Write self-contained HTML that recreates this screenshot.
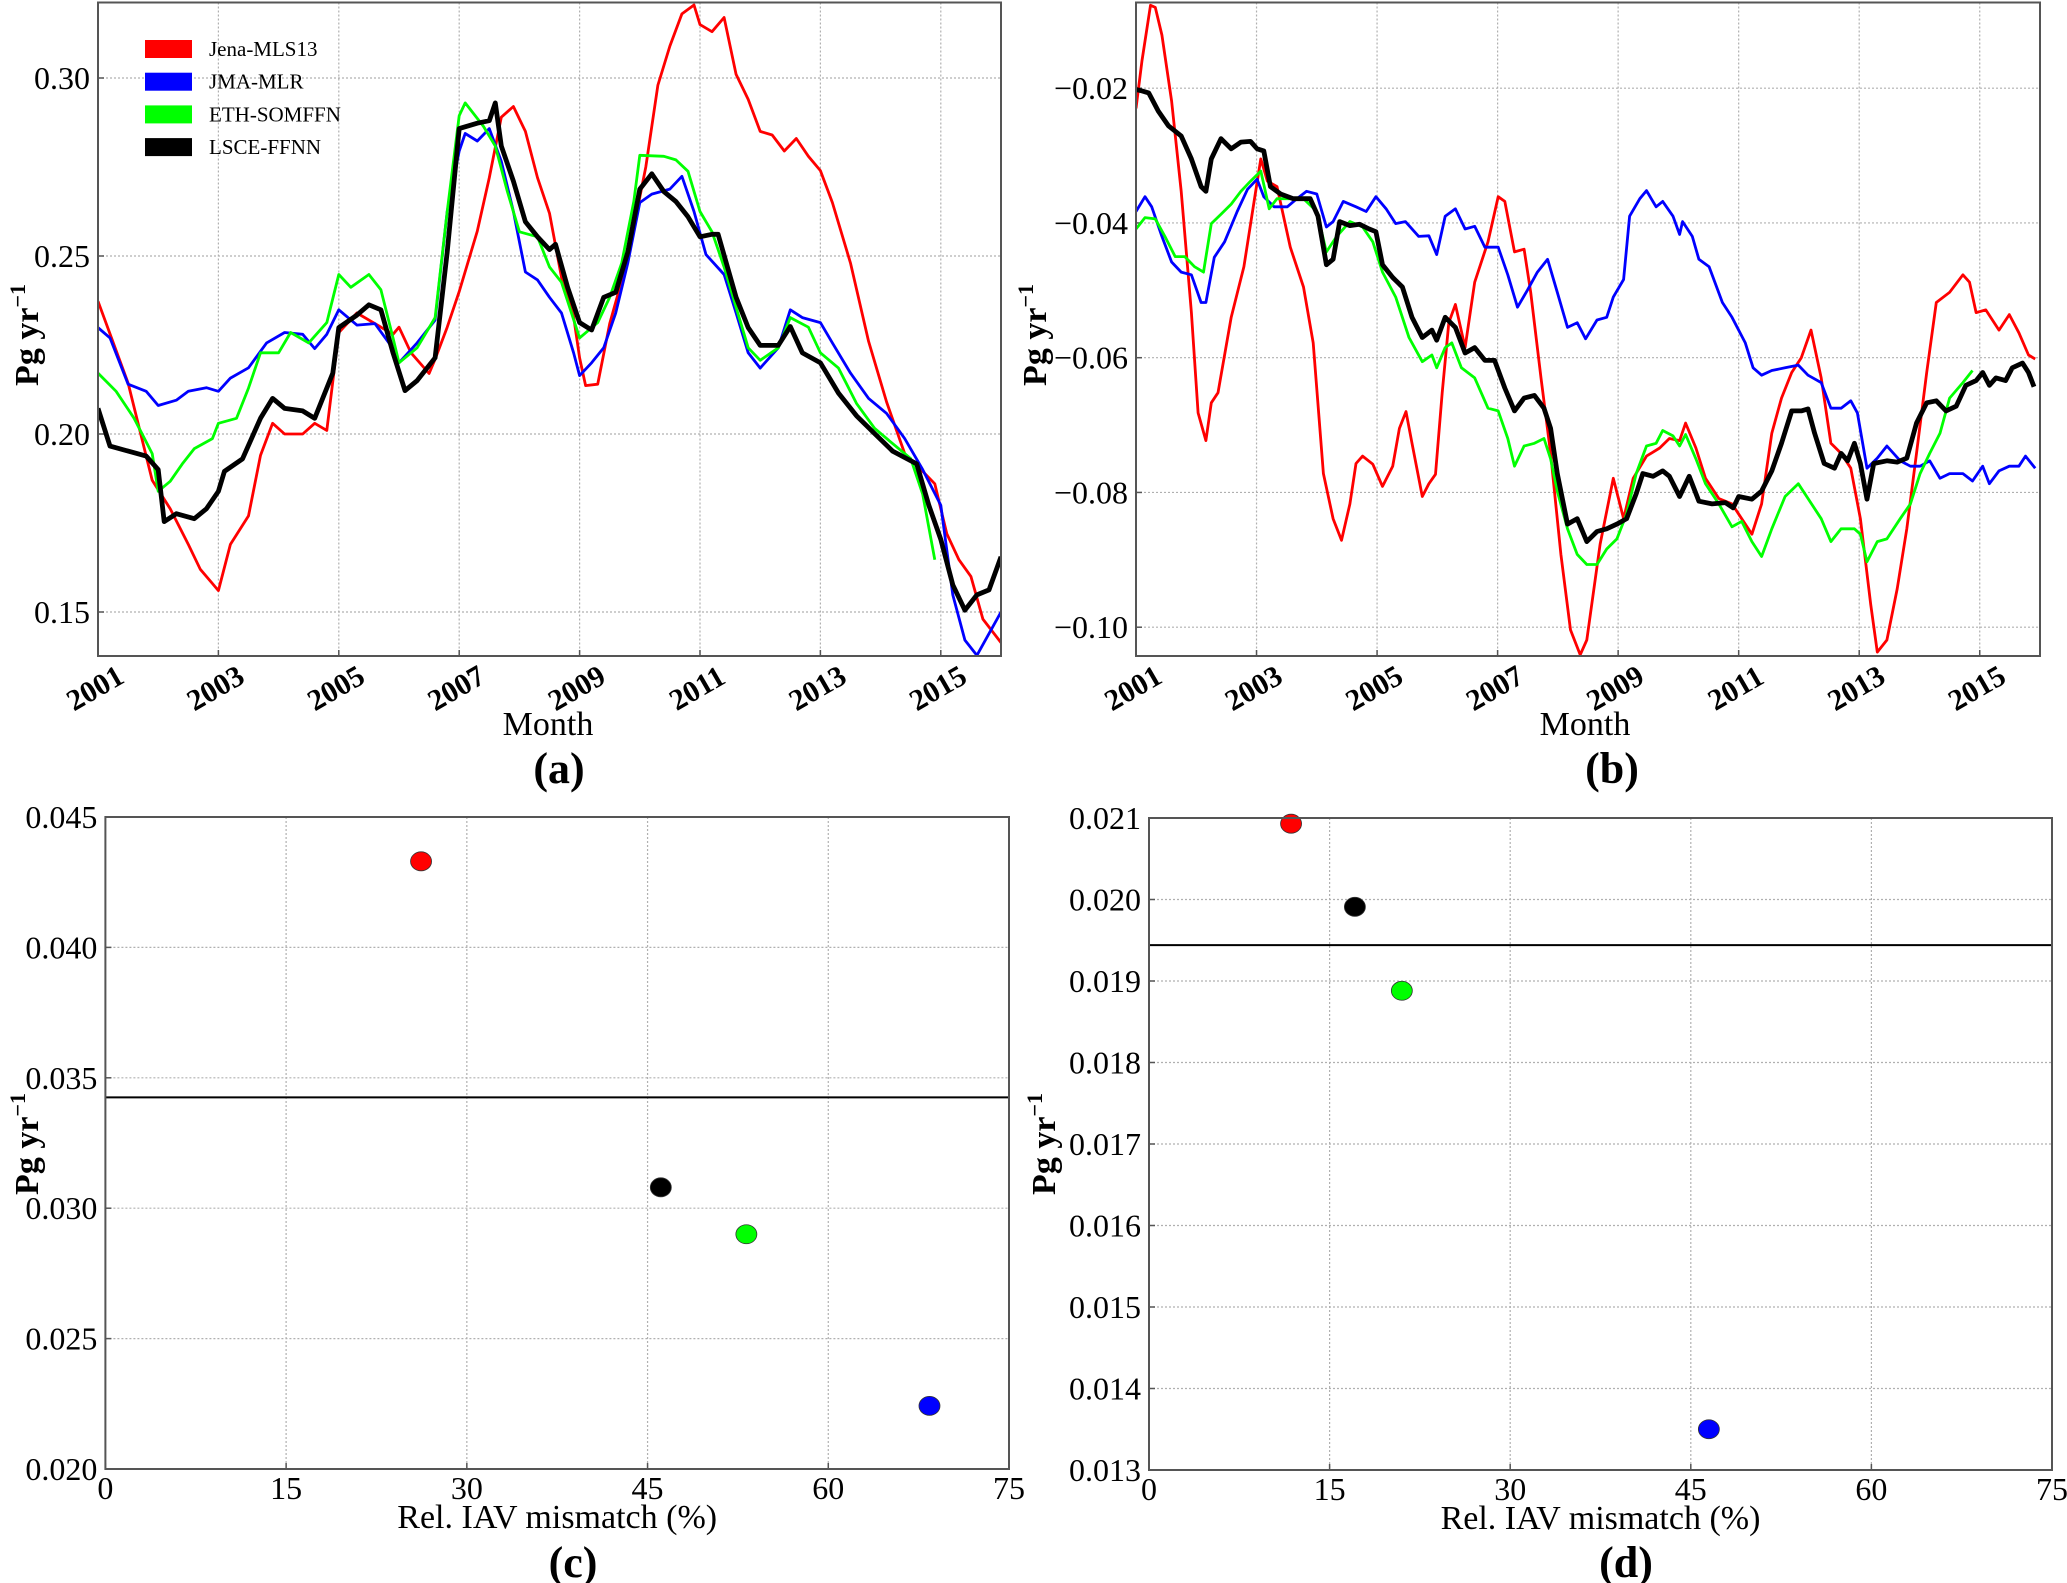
<!DOCTYPE html>
<html><head><meta charset="utf-8"><style>
html,body{margin:0;padding:0;background:#fff;}
svg{display:block;font-family:"Liberation Serif",serif;}
</style></head><body>
<svg id="fig" width="2067" height="1583" viewBox="0 0 2067 1583"></svg>
<script>
// ---------- Panel (a) data ----------
const aRedX=[2001.0,2001.5,2001.9,2002.2,2002.5,2002.7,2002.9,2003.0,2003.2,2003.5,2003.7,2003.9,2004.1,2004.4,2004.6,2004.8,2005.0,2005.3,2005.6,2005.9,2006.0,2006.2,2006.5,2006.6,2006.8,2007.0,2007.3,2007.5,2007.7,2007.9,2008.1,2008.3,2008.5,2008.7,2008.9,2009.0,2009.1,2009.3,2009.5,2009.7,2009.9,2010.1,2010.3,2010.5,2010.7,2010.9,2011.0,2011.2,2011.4,2011.6,2011.8,2012.0,2012.2,2012.4,2012.6,2012.8,2013.0,2013.2,2013.5,2013.8,2014.1,2014.4,2014.7,2014.9,2015.1,2015.3,2015.5,2015.7,2016.0];
const aRedY=[0.2373,0.2143,0.187,0.179,0.169,0.162,0.158,0.156,0.169,0.177,0.194,0.203,0.200,0.200,0.203,0.201,0.2285,0.234,0.231,0.228,0.230,0.2228,0.217,0.221,0.230,0.240,0.257,0.272,0.289,0.292,0.285,0.272,0.262,0.244,0.233,0.2214,0.2136,0.214,0.231,0.243,0.258,0.275,0.298,0.309,0.318,0.3205,0.315,0.313,0.317,0.301,0.294,0.285,0.284,0.2795,0.283,0.278,0.274,0.265,0.248,0.226,0.209,0.1945,0.1895,0.186,0.172,0.1647,0.160,0.148,0.1414];
const aBlueX=[2001.0,2001.2,2001.5,2001.8,2002.0,2002.3,2002.5,2002.8,2003.0,2003.2,2003.5,2003.8,2004.1,2004.4,2004.6,2004.8,2005.0,2005.3,2005.6,2005.9,2006.0,2006.3,2006.6,2006.8,2007.0,2007.1,2007.3,2007.5,2007.7,2007.9,2008.1,2008.3,2008.5,2008.7,2008.9,2009.0,2009.2,2009.4,2009.6,2009.8,2010.0,2010.2,2010.5,2010.7,2010.9,2011.1,2011.4,2011.6,2011.8,2012.0,2012.3,2012.5,2012.7,2013.0,2013.2,2013.5,2013.8,2014.1,2014.4,2014.7,2015.0,2015.2,2015.4,2015.6,2016.0];
const aBlueY=[0.2299,0.227,0.214,0.212,0.208,0.2095,0.212,0.213,0.212,0.2157,0.2186,0.2256,0.2285,0.228,0.224,0.228,0.2349,0.2306,0.231,0.224,0.220,0.2256,0.232,0.2625,0.2795,0.2844,0.2823,0.2858,0.2766,0.2625,0.2455,0.2433,0.2384,0.234,0.2228,0.2164,0.220,0.2242,0.234,0.248,0.265,0.2674,0.2688,0.2724,0.2625,0.2504,0.2448,0.234,0.2228,0.2185,0.2242,0.2349,0.2327,0.2313,0.2256,0.2171,0.210,0.2058,0.1987,0.190,0.180,0.1548,0.1421,0.1378,0.150];
const aGreenX=[2001.0,2001.3,2001.6,2001.9,2002.0,2002.2,2002.4,2002.6,2002.9,2003.0,2003.3,2003.5,2003.7,2004.0,2004.2,2004.5,2004.8,2005.0,2005.2,2005.5,2005.7,2005.9,2006.0,2006.3,2006.6,2006.8,2007.0,2007.1,2007.4,2007.6,2007.8,2008.0,2008.3,2008.5,2008.7,2009.0,2009.3,2009.5,2009.7,2009.9,2010.0,2010.4,2010.6,2010.8,2011.0,2011.2,2011.4,2011.6,2011.8,2012.0,2012.3,2012.5,2012.8,2013.0,2013.3,2013.6,2013.9,2014.2,2014.5,2014.7,2014.9];
const aGreenY=[0.2171,0.212,0.2044,0.1945,0.1839,0.1867,0.1916,0.1959,0.1987,0.203,0.2044,0.2129,0.2228,0.2228,0.2285,0.2256,0.2313,0.2448,0.2412,0.2448,0.2405,0.227,0.220,0.2242,0.2327,0.2625,0.2894,0.293,0.2865,0.2809,0.2681,0.2568,0.2554,0.2469,0.2426,0.227,0.2313,0.2384,0.248,0.2653,0.2783,0.278,0.277,0.2738,0.2625,0.2568,0.2469,0.2356,0.2242,0.2207,0.2242,0.2327,0.230,0.2228,0.2185,0.2086,0.2016,0.1973,0.1931,0.1831,0.1647];
const aBlackX=[2001.0,2001.2,2001.5,2001.8,2002.0,2002.1,2002.3,2002.6,2002.8,2003.0,2003.1,2003.4,2003.7,2003.9,2004.1,2004.4,2004.6,2004.9,2005.0,2005.3,2005.5,2005.7,2005.9,2006.1,2006.3,2006.6,2006.8,2007.0,2007.3,2007.5,2007.6,2007.7,2007.9,2008.1,2008.3,2008.5,2008.6,2008.8,2009.0,2009.2,2009.4,2009.6,2009.8,2010.0,2010.2,2010.4,2010.6,2010.8,2011.0,2011.2,2011.3,2011.6,2011.8,2012.0,2012.3,2012.5,2012.7,2013.0,2013.3,2013.6,2013.9,2014.2,2014.6,2014.8,2015.0,2015.2,2015.4,2015.6,2015.8,2016.0];
const aBlackY=[0.2072,0.1966,0.1952,0.1938,0.190,0.1754,0.1776,0.1762,0.179,0.1839,0.1895,0.193,0.2044,0.210,0.2072,0.2065,0.2044,0.2171,0.2299,0.2334,0.2363,0.2349,0.2228,0.2122,0.215,0.2214,0.2511,0.2858,0.2873,0.288,0.293,0.2809,0.271,0.2596,0.2554,0.2518,0.2533,0.2412,0.2313,0.2292,0.2384,0.2398,0.2511,0.2688,0.2731,0.2681,0.2653,0.261,0.2554,0.2561,0.2561,0.2384,0.2299,0.2249,0.2249,0.2302,0.2228,0.22,0.2115,0.2051,0.2001,0.1952,0.1916,0.180,0.1704,0.1576,0.1505,0.1548,0.1562,0.1655];
// ---------- Panel (b) data ----------
const bRedX=[2001.0,2001.1,2001.24,2001.32,2001.43,2001.59,2001.75,2001.92,2002.03,2002.16,2002.25,2002.36,2002.58,2002.79,2002.96,2003.07,2003.18,2003.34,2003.56,2003.78,2003.94,2004.11,2004.27,2004.41,2004.55,2004.65,2004.76,2004.93,2005.09,2005.26,2005.37,2005.48,2005.58,2005.75,2005.86,2005.97,2006.08,2006.19,2006.3,2006.46,2006.62,2006.84,2007.01,2007.12,2007.28,2007.44,2007.55,2007.72,2007.88,2008.05,2008.21,2008.37,2008.48,2008.7,2008.92,2009.09,2009.25,2009.47,2009.69,2009.85,2010.02,2010.12,2010.29,2010.45,2010.67,2010.89,2011.05,2011.22,2011.38,2011.55,2011.71,2011.88,2012.04,2012.2,2012.37,2012.53,2012.7,2012.86,2013.02,2013.19,2013.3,2013.46,2013.63,2013.79,2013.95,2014.12,2014.28,2014.5,2014.72,2014.83,2014.94,2015.1,2015.32,2015.49,2015.65,2015.81,2015.92];
const bRedY=[-0.0230,-0.0159,-0.0077,-0.008,-0.0121,-0.0219,-0.0353,-0.0533,-0.0682,-0.0723,-0.0667,-0.0652,-0.054,-0.0465,-0.0368,-0.0305,-0.0338,-0.0346,-0.0436,-0.0495,-0.0578,-0.0772,-0.0839,-0.0871,-0.0817,-0.0757,-0.0746,-0.0758,-0.0791,-0.0761,-0.0705,-0.068,-0.0727,-0.0806,-0.0787,-0.0773,-0.0652,-0.0548,-0.0521,-0.0585,-0.0488,-0.0428,-0.0361,-0.0368,-0.0443,-0.0439,-0.0503,-0.063,-0.0742,-0.0892,-0.1004,-0.1041,-0.1019,-0.0877,-0.0779,-0.0839,-0.0779,-0.0746,-0.0734,-0.072,-0.0723,-0.0697,-0.0734,-0.0779,-0.0809,-0.0817,-0.0839,-0.0862,-0.0817,-0.0712,-0.066,-0.0622,-0.06,-0.0559,-0.063,-0.0727,-0.0742,-0.0764,-0.0839,-0.0966,-0.1037,-0.1019,-0.0943,-0.0854,-0.0742,-0.0622,-0.0518,-0.0503,-0.0477,-0.0488,-0.0533,-0.0529,-0.0559,-0.0536,-0.0563,-0.0596,-0.0602];
const bBlueX=[2001.0,2001.15,2001.26,2001.43,2001.59,2001.75,2001.92,2002.08,2002.16,2002.3,2002.47,2002.68,2002.85,2003.01,2003.12,2003.29,2003.51,2003.67,2003.83,2004.0,2004.16,2004.27,2004.44,2004.65,2004.82,2004.98,2005.15,2005.31,2005.47,2005.69,2005.86,2005.99,2006.13,2006.3,2006.46,2006.62,2006.79,2007.01,2007.17,2007.33,2007.5,2007.66,2007.83,2007.99,2008.16,2008.32,2008.46,2008.65,2008.81,2008.92,2009.09,2009.19,2009.36,2009.47,2009.63,2009.74,2009.91,2010.02,2010.07,2010.23,2010.34,2010.51,2010.73,2010.89,2011.11,2011.24,2011.38,2011.55,2011.77,2011.99,2012.15,2012.37,2012.53,2012.7,2012.86,2012.97,2013.13,2013.3,2013.46,2013.68,2013.85,2014.01,2014.17,2014.34,2014.5,2014.72,2014.88,2015.05,2015.16,2015.32,2015.49,2015.65,2015.76,2015.92];
const bBlueY=[-0.0383,-0.0361,-0.0376,-0.042,-0.0458,-0.0473,-0.0477,-0.0518,-0.0518,-0.0451,-0.0428,-0.0383,-0.035,-0.0335,-0.0361,-0.0376,-0.0376,-0.0364,-0.0353,-0.0357,-0.0406,-0.0398,-0.0368,-0.0376,-0.0383,-0.0361,-0.0379,-0.0401,-0.0398,-0.042,-0.0419,-0.0447,-0.039,-0.0379,-0.0409,-0.0405,-0.0436,-0.0436,-0.0477,-0.0525,-0.0499,-0.0473,-0.0454,-0.0503,-0.0555,-0.0548,-0.0572,-0.0544,-0.054,-0.051,-0.0484,-0.039,-0.0364,-0.0352,-0.0376,-0.0368,-0.039,-0.0417,-0.0398,-0.042,-0.0454,-0.0465,-0.0518,-0.054,-0.0578,-0.0615,-0.0626,-0.0619,-0.0615,-0.0611,-0.0626,-0.0637,-0.0675,-0.0675,-0.0664,-0.0682,-0.0764,-0.0749,-0.0731,-0.0753,-0.0761,-0.0761,-0.0753,-0.0779,-0.0772,-0.0772,-0.0783,-0.0761,-0.0787,-0.0768,-0.0761,-0.0761,-0.0746,-0.0764];
const bGreenX=[2001.0,2001.15,2001.32,2001.48,2001.65,2001.81,2001.97,2002.12,2002.25,2002.41,2002.58,2002.74,2002.9,2003.07,2003.21,2003.34,2003.56,2003.78,2004.0,2004.16,2004.33,2004.55,2004.76,2004.93,2005.09,2005.31,2005.53,2005.75,2005.91,2005.99,2006.13,2006.24,2006.4,2006.62,2006.84,2007.01,2007.17,2007.28,2007.44,2007.61,2007.77,2007.88,2007.99,2008.16,2008.32,2008.48,2008.65,2008.81,2008.98,2009.14,2009.3,2009.47,2009.63,2009.74,2009.91,2010.02,2010.12,2010.29,2010.45,2010.67,2010.89,2011.05,2011.22,2011.38,2011.55,2011.77,2011.99,2012.15,2012.37,2012.53,2012.7,2012.92,2013.02,2013.13,2013.3,2013.46,2013.68,2013.85,2014.01,2014.17,2014.34,2014.5,2014.72,2014.88];
const bGreenY=[-0.0409,-0.0392,-0.0394,-0.042,-0.045,-0.045,-0.0465,-0.0473,-0.0401,-0.0387,-0.0372,-0.0353,-0.0338,-0.0323,-0.0379,-0.0364,-0.0364,-0.0364,-0.0383,-0.0443,-0.042,-0.0398,-0.0406,-0.0428,-0.0473,-0.051,-0.057,-0.0606,-0.0596,-0.0615,-0.0585,-0.0578,-0.0615,-0.063,-0.0675,-0.0679,-0.072,-0.0761,-0.0731,-0.0727,-0.072,-0.075,-0.0798,-0.0854,-0.0892,-0.0907,-0.0907,-0.0884,-0.0869,-0.0832,-0.0772,-0.0731,-0.0727,-0.0708,-0.0716,-0.0731,-0.0714,-0.075,-0.0787,-0.0817,-0.0851,-0.0843,-0.0873,-0.0895,-0.0854,-0.0806,-0.0787,-0.0809,-0.0839,-0.0873,-0.0854,-0.0854,-0.0862,-0.0903,-0.0873,-0.0869,-0.0839,-0.0817,-0.0772,-0.0742,-0.0712,-0.066,-0.0637,-0.0619];
const bBlackX=[2001.0,2001.1,2001.21,2001.37,2001.54,2001.75,2001.92,2002.08,2002.16,2002.25,2002.41,2002.58,2002.74,2002.9,2003.01,2003.12,2003.23,2003.4,2003.61,2003.89,2004.02,2004.16,2004.27,2004.38,2004.55,2004.71,2004.87,2004.98,2005.09,2005.26,2005.42,2005.58,2005.75,2005.91,2005.99,2006.13,2006.3,2006.46,2006.62,2006.79,2006.95,2007.12,2007.28,2007.44,2007.61,2007.77,2007.88,2007.99,2008.16,2008.32,2008.48,2008.65,2008.81,2008.98,2009.14,2009.3,2009.41,2009.58,2009.74,2009.85,2010.02,2010.18,2010.34,2010.56,2010.78,2010.91,2011.0,2011.22,2011.38,2011.55,2011.71,2011.88,2012.04,2012.15,2012.26,2012.42,2012.59,2012.7,2012.81,2012.92,2013.02,2013.13,2013.24,2013.46,2013.63,2013.79,2013.95,2014.12,2014.28,2014.44,2014.61,2014.77,2014.94,2015.05,2015.16,2015.27,2015.43,2015.54,2015.71,2015.81,2015.9];
const bBlackY=[-0.0202,-0.0204,-0.0207,-0.0234,-0.0256,-0.0271,-0.0305,-0.0346,-0.0353,-0.0305,-0.0275,-0.029,-0.028,-0.0279,-0.029,-0.0293,-0.0346,-0.0357,-0.0364,-0.0364,-0.039,-0.0462,-0.0454,-0.0398,-0.0404,-0.0402,-0.0409,-0.0413,-0.0462,-0.0481,-0.0495,-0.054,-0.057,-0.0559,-0.0574,-0.054,-0.0555,-0.0593,-0.0585,-0.0604,-0.0604,-0.0645,-0.0679,-0.066,-0.0656,-0.0675,-0.0705,-0.0772,-0.0847,-0.0839,-0.0873,-0.0858,-0.0854,-0.0847,-0.0839,-0.0802,-0.0772,-0.0776,-0.0768,-0.0776,-0.0806,-0.0776,-0.0813,-0.0817,-0.0815,-0.0823,-0.0806,-0.081,-0.0798,-0.0768,-0.0727,-0.0679,-0.0679,-0.0676,-0.0712,-0.0757,-0.0764,-0.0742,-0.0753,-0.0727,-0.0757,-0.081,-0.0757,-0.0753,-0.0755,-0.0749,-0.0697,-0.0667,-0.0664,-0.0679,-0.0672,-0.0641,-0.0634,-0.0622,-0.0641,-0.063,-0.0634,-0.0615,-0.0608,-0.0622,-0.0643];
// ---------- Panels (c),(d) data ----------
const models=["Jena-MLS13","JMA-MLR","ETH-SOMFFN","LSCE-FFNN"];
const colors=["#ff0000","#0000ff","#00ff00","#000000"];
const cMismatch=[26.2,68.4,53.2,46.1];
const cStd=[0.0433,0.02242,0.0290,0.0308];
const cRef=0.03425;
const dMismatch=[11.8,46.5,21.0,17.1];
const dStd=[0.02093,0.0135,0.01888,0.01991];
const dRef=0.01944;
const yearTicks=[2001,2003,2005,2007,2009,2011,2013,2015];
const aYTicks=[0.15,0.20,0.25,0.30];
const bYTicks=[-0.10,-0.08,-0.06,-0.04,-0.02];
const pctTicks=[0,15,30,45,60,75];
const cYTicks=[0.020,0.025,0.030,0.035,0.040,0.045];
const dYTicks=[0.013,0.014,0.015,0.016,0.017,0.018,0.019,0.020,0.021];

const NS="http://www.w3.org/2000/svg";
const svg=document.getElementById('fig');
function el(tag,attrs,parent){const e=document.createElementNS(NS,tag);for(const k in attrs)e.setAttribute(k,attrs[k]);(parent||svg).appendChild(e);return e;}
function lin(d0,d1,r0,r1){return v=>r0+(v-d0)/(d1-d0)*(r1-r0);}

function panel(name,L,R,T,B,xs,ys,xt,yt,xfmt,yfmt,rotX){
  const g=el('g',{});
  
  
  xt.forEach(v=>{const x=xs(v);const l=el('line',{x1:x,x2:x,y1:T,y2:B,stroke:'#b0b0b0','stroke-width':1.2,'stroke-dasharray':'2,2'},g);
    
    });
  yt.forEach(v=>{const y=ys(v);const l=el('line',{x1:L,x2:R,y1:y,y2:y,stroke:'#b0b0b0','stroke-width':1.2,'stroke-dasharray':'2,2'},g);
    
    });
  xt.forEach(v=>{const x=xs(v);let t;
    el('line',{x1:x,x2:x,y1:B,y2:B-6,stroke:'#555','stroke-width':1.5},g);
    if(rotX){t=el('text',{x:x-3,y:B+42,'font-size':30,'font-weight':'bold','text-anchor':'middle',transform:`rotate(-30 ${x-3} ${B+32})`},g);}
    else{t=el('text',{x:x,y:B+30,'font-size':32,'text-anchor':'middle'},g);}
    t.textContent=xfmt(v);
    
    });
  yt.forEach(v=>{const y=ys(v);
    el('line',{x1:L,x2:L+6,y1:y,y2:y,stroke:'#555','stroke-width':1.5},g);
    const t=el('text',{x:L-8,y:y+11,'font-size':32,'text-anchor':'end'},g);
    t.textContent=yfmt(v);
    
    });
  return g;
}
function frame(g,L,R,T,B){const r=el('rect',{x:L,y:T,width:R-L,height:B-T,fill:'none',stroke:'#555','stroke-width':2},g);
  
  }
function series(g,xs,ys,X,Y,color,w,name){
  const d=X.map((v,i)=>(i?'L':'M')+xs(v).toFixed(1)+','+ys(Y[i]).toFixed(1)).join('');
  const p=el('path',{d:d,fill:'none',stroke:color,'stroke-width':w,'stroke-linejoin':'round'},g);
  
  
}
function label(txt,x,y,size,weight,name,rot){
  const t=el('text',{x:x,y:y,'font-size':size,'font-weight':weight,'text-anchor':'middle'});
  if(rot)t.setAttribute('transform',`rotate(-90 ${x} ${y})`);
  t.innerHTML=txt;
  
  
  return t;
}
const ylab='Pg yr<tspan dy="-13" font-size="22">−1</tspan>';

{const L=98,R=1001,T=2.5,B=656;
 const xs=lin(2001,2016,L,R), ys=lin(0.15,0.30,612,78);
 const g=panel('panel-a',L,R,T,B,xs,ys,yearTicks,aYTicks,v=>String(v),v=>v.toFixed(2),true);
 const cp=el('clipPath',{id:'ca'});el('rect',{x:L,y:T,width:R-L,height:B-T},cp);
 const sg=el('g',{'clip-path':'url(#ca)'},g);
 series(sg,xs,ys,aRedX,aRedY,colors[0],2.8,'jena-line-a');
 series(sg,xs,ys,aBlueX,aBlueY,colors[1],2.8,'jma-line-a');
 series(sg,xs,ys,aGreenX,aGreenY,colors[2],2.8,'eth-line-a');
 series(sg,xs,ys,aBlackX,aBlackY,colors[3],4.8,'lsce-line-a');
 frame(g,L,R,T,B);
 const lg=el('g',{},g);
 
 
 models.forEach((m,i)=>{const y=49+i*32.7;
   const r=el('rect',{x:145,y:y-9,width:47,height:18,fill:colors[i]},lg);
   
   
   const t=el('text',{x:209,y:y+7,'font-size':21},lg);t.textContent=m;
   
   });
 label('Month',548,735,34,'normal','x-axis-title-a');
 label('(a)',559,783,44,'bold','caption-a');
 label(ylab,38,335,34,'bold','y-axis-title-a',true);
}
{const L=1136,R=2040,T=2.5,B=656;
 const xs=lin(2001,2016,L,R), ys=lin(-0.10,-0.02,627.2,88.2);
 const g=panel('panel-b',L,R,T,B,xs,ys,yearTicks,bYTicks,v=>String(v),v=>(v<0?'−':'')+Math.abs(v).toFixed(2),true);
 const cp=el('clipPath',{id:'cb'});el('rect',{x:L,y:T,width:R-L,height:B-T},cp);
 const sg=el('g',{'clip-path':'url(#cb)'},g);
 series(sg,xs,ys,bRedX,bRedY,colors[0],2.8,'jena-line-b');
 series(sg,xs,ys,bBlueX,bBlueY,colors[1],2.8,'jma-line-b');
 series(sg,xs,ys,bGreenX,bGreenY,colors[2],2.8,'eth-line-b');
 series(sg,xs,ys,bBlackX,bBlackY,colors[3],4.8,'lsce-line-b');
 frame(g,L,R,T,B);
 label('Month',1585,735,34,'normal','x-axis-title-b');
 label('(b)',1612,783,44,'bold','caption-b');
 label(ylab,1046,335,34,'bold','y-axis-title-b',true);
}
function scatter(name,L,R,T,B,ymin,ymax,yt,X,Y,ref,cap,capx){
  const xs=lin(0,75,L,R), ys=lin(ymin,ymax,B,T);
  const g=panel(name,L,R,T,B,xs,ys,pctTicks,yt,v=>String(v),v=>v.toFixed(3),false);
  const h=el('line',{x1:L,x2:R,y1:ys(ref),y2:ys(ref),stroke:'#000','stroke-width':2},g);
  
  
  X.forEach((v,i)=>{const c=el('ellipse',{cx:xs(v),cy:ys(Y[i]),rx:10.5,ry:9.5,fill:colors[i],stroke:'#333','stroke-width':0.8},g);
    
    });
  frame(g,L,R,T,B);
  label('Rel.  IAV mismatch (%)',(L+R)/2,B+59,34,'normal','x-axis-title-'+cap);
  label('('+cap+')',capx,1577,44,'bold','caption-'+cap);
}
scatter('panel-c',105.4,1009,817,1469,0.020,0.045,cYTicks,cMismatch,cStd,cRef,'c',573);
label(ylab,38,1144,34,'bold','y-axis-title-c',true);
scatter('panel-d',1149,2052,818,1470,0.013,0.021,dYTicks,dMismatch,dStd,dRef,'d',1626);
label(ylab,1055,1144,34,'bold','y-axis-title-d',true);
</script>
</body></html>
